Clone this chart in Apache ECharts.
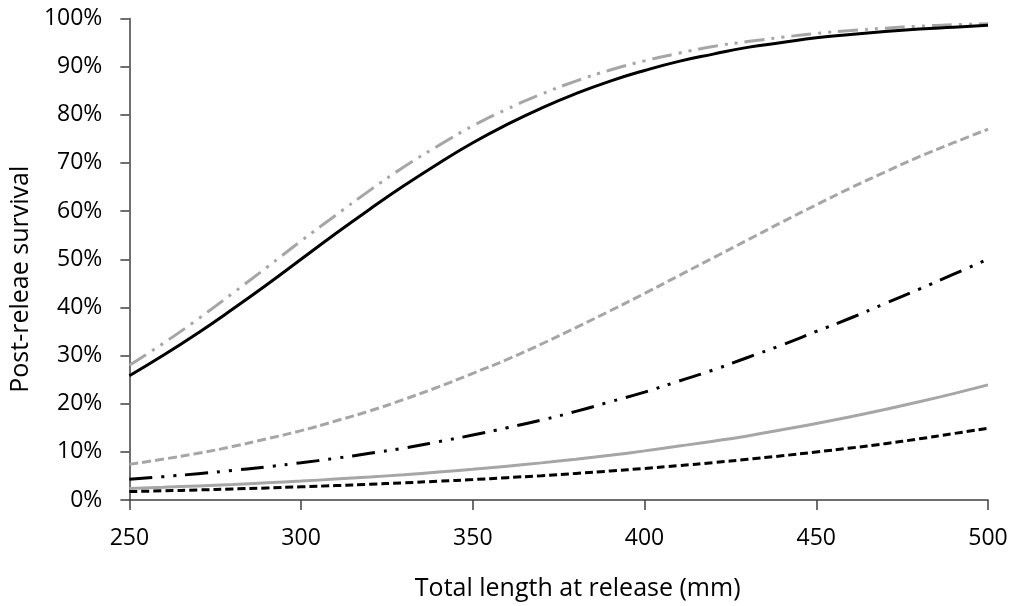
<!DOCTYPE html>
<html>
<head>
<meta charset="utf-8">
<script src="https://cdn.jsdelivr.net/npm/echarts@6/dist/echarts.min.js"></script>
<style>html,body{margin:0;padding:0;background:#fff}#c{width:1016px;height:606px}</style>
</head>
<body>
<div id="c"></div>
<script>
const lengths = [250,260,270,280,290,300,310,320,330,340,350,360,370,380,390,400,410,420,430,440,450,460,470,480,490,500];
const blackSolid = [25.8,30.1,34.7,39.6,44.7,50.0,55.3,60.4,65.3,69.9,74.2,78.0,81.4,84.4,87.0,89.2,91.1,92.6,94.0,95.0,96.0,96.7,97.3,97.8,98.2,98.6];
const grayDashDotDot = [28.0,32.6,37.6,42.9,48.3,53.8,59.1,64.3,69.2,73.6,77.7,81.2,84.3,87.0,89.3,91.2,92.8,94.2,95.2,96.1,96.9,97.5,98.0,98.4,98.7,98.9];
const grayShortDash = [7.4,8.5,9.7,11.1,12.7,14.4,16.4,18.5,20.9,23.5,26.3,29.2,32.4,35.8,39.3,42.9,46.6,50.3,54.0,57.7,61.3,64.8,68.1,71.3,74.2,77.0];
const blackDashDotDot = [4.3,4.85,5.46,6.13,6.89,7.73,8.66,9.69,10.8,12.1,13.5,15.0,16.6,18.4,20.4,22.4,24.7,27.0,29.6,32.2,35.0,37.8,40.8,43.8,46.9,50.0];
const graySolid = [2.4,2.65,2.93,3.23,3.57,3.93,4.34,4.78,5.26,5.8,6.38,7.02,7.71,8.47,9.29,10.2,11.2,12.2,13.3,14.6,15.9,17.3,18.8,20.4,22.1,23.9];
const blackShortDash = [1.75,1.91,2.09,2.29,2.5,2.74,2.99,3.27,3.57,3.9,4.25,4.64,5.06,5.52,6.02,6.56,7.14,7.77,8.45,9.18,9.97,10.8,11.7,12.7,13.8,14.9];
const xTicks = [250,300,350,400,450,500];
const yTicks = [0,10,20,30,40,50,60,70,80,90,100];

const FONT = 'Open Sans';
function pts(arr){ return lengths.map((x,i)=>[x,arr[i]]); }
function mk(name, data, color, type){
  return {name, type:'line', data:pts(data), smooth:true, showSymbol:false, symbol:'none',
    lineStyle:{color, width:3, type, cap:'butt'}, z: 3};
}
const chart = echarts.init(document.getElementById('c'), null, {renderer:'canvas'});
chart.setOption({
  animation:false,
  backgroundColor:'#fff',
  grid:{left:126, right:28, top:18.5, bottom:102.5, containLabel:false},
  xAxis:{type:'value', min:xTicks[0], max:xTicks[xTicks.length-1], interval:50,
    name:'Total length at release (mm)', nameLocation:'middle', nameGap:76,
    nameTextStyle:{fontFamily:FONT, fontSize:25, color:'#000', padding:[0,0,0,38]},
    axisLine:{show:true, lineStyle:{color:'#404040', width:1.5}},
    axisTick:{show:true, inside:false, length:10, lineStyle:{color:'#404040', width:1.5}},
    axisLabel:{fontFamily:FONT, fontSize:23, color:'#000', margin:27},
    splitLine:{show:false}},
  yAxis:{type:'value', min:yTicks[0], max:yTicks[yTicks.length-1], interval:10,
    name:'Post-releae survival', nameLocation:'middle', nameGap:87, nameRotate:90,
    nameTextStyle:{fontFamily:FONT, fontSize:25, color:'#000', padding:[0,40,0,0]},
    axisLine:{show:true, lineStyle:{color:'#404040', width:1.5}},
    axisTick:{show:true, inside:false, length:9, lineStyle:{color:'#404040', width:1.5}},
    axisLabel:{fontFamily:FONT, fontSize:23, color:'#000', margin:27, formatter:'{value}%'},
    splitLine:{show:false}},
  series:[
    mk('A', grayDashDotDot, '#a6a6a6', [20,7,3,7,3,7]),
    mk('B', blackSolid, '#000000', 'solid'),
    mk('C', grayShortDash, '#a6a6a6', [9,4]),
    mk('D', blackDashDotDot, '#000000', [23,9,3,9,3,9]),
    mk('E', graySolid, '#a6a6a6', 'solid'),
    mk('F', blackShortDash, '#000000', [8,4])
  ]
});
</script>
</body>
</html>
